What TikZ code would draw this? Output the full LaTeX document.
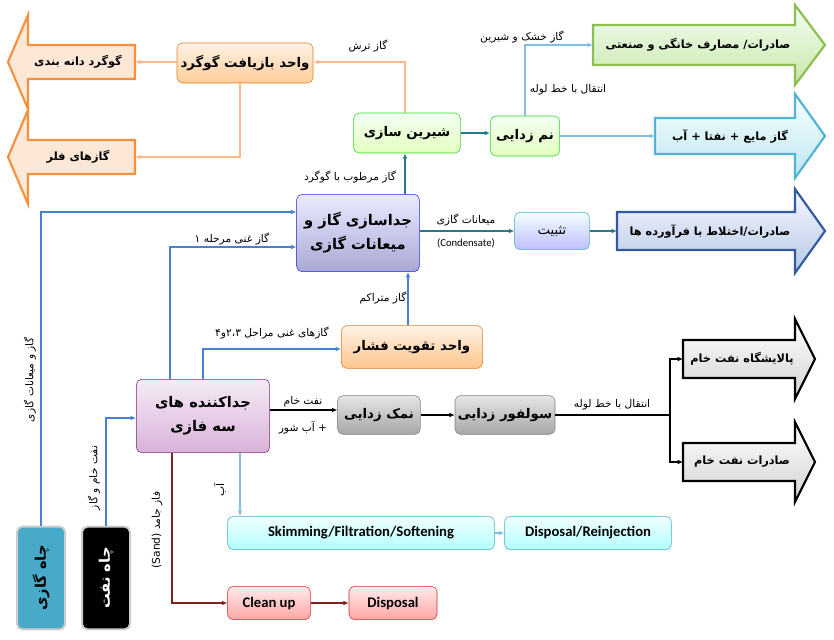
\documentclass[tikz,border=0pt]{standalone}
\usepackage{fontspec}
\setmainfont{Carlito}
\newfontfamily\persian[Script=Arabic]{DejaVu Sans}
\TeXXeTstate=1
\usetikzlibrary{arrows.meta}
\newcommand{\fa}[1]{{\persian\beginR #1\endR}}
\definecolor{lblue}{RGB}{70,130,210}
\definecolor{teal2}{RGB}{40,120,140}
\definecolor{lor}{RGB}{250,185,140}
\definecolor{wblue}{RGB}{130,190,230}
\definecolor{dred}{RGB}{130,30,30}
\tikzset{
 bx/.style={rounded corners=4pt, align=center, inner sep=2pt, font=\bfseries\fontsize{10}{14}\selectfont, draw=#1!70!gray},
 lbl/.style={font=\fontsize{8}{9}\selectfont, inner sep=1pt},
 con/.style={draw=#1, line width=1pt, -{Latex[length=4pt,width=3.5pt]}},
 bigar/.style={line width=1.6pt},
 artxt/.style={font=\bfseries\fontsize{8.5}{10}\selectfont, inner sep=0pt}
}
\newcommand{\rarr}[7]{% x1 xb tip yc hb hh style
 \path[bigar,#7] (#1,#4-#5) -- (#2,#4-#5) -- (#2,#4-#6) -- (#3,#4) -- (#2,#4+#6) -- (#2,#4+#5) -- (#1,#4+#5) -- cycle;}
\begin{document}
\begin{tikzpicture}[x=0.75pt,y=-0.75pt]
\useasboundingbox (0,0) rectangle (834,639);
% big arrows
\rarr{593}{795}{825}{45}{20}{40}{draw={rgb,255:red,140;green,190;blue,80}, top color=green!5, bottom color={rgb,255:red,200;green,230;blue,170}}
\node[artxt] (tga) at (698,45) {\fa{صادرات/ مصارف خانگی و صنعتی}};
\coordinate (ga) at (593,45);
\rarr{655}{795}{825}{136}{18}{42}{draw={rgb,255:red,80;green,180;blue,210}, top color=cyan!3, bottom color={rgb,255:red,190;green,230;blue,240}}
\node[artxt] (tla) at (730,136) {\fa{گاز مایع + نفتا + آب}};
\coordinate (la) at (655,136);
\rarr{617}{795}{825}{231}{19}{42}{draw={rgb,255:red,50;green,90;blue,160}, top color=blue!3, bottom color={rgb,255:red,180;green,200;blue,230}}
\node[artxt] (tda) at (710,231) {\fa{صادرات/اختلاط با فرآورده ها}};
\coordinate (da) at (617,231);
\rarr{683}{795}{815}{359}{19}{40}{draw=black, top color=white, bottom color=gray!35}
\node[artxt] (tb1) at (742,359) {\fa{پالایشگاه نفت خام}};
\coordinate (b1) at (683,359);
\rarr{683}{795}{815}{462}{19}{40}{draw=black, top color=white, bottom color=gray!35}
\node[artxt] (tb2) at (742,462) {\fa{صادرات نفت خام}};
\coordinate (b2) at (683,462);
\path[bigar, draw={rgb,255:red,245;green,145;blue,60}, fill={rgb,255:red,253;green,232;blue,215}] (135,45) -- (28,45) -- (28,15) -- (8,62) -- (28,109) -- (28,79) -- (135,79) -- cycle;
\path[bigar, draw={rgb,255:red,245;green,145;blue,60}, fill={rgb,255:red,253;green,232;blue,215}] (135,140) -- (28,140) -- (28,110) -- (8,157) -- (28,204) -- (28,174) -- (135,174) -- cycle;
\node[artxt] (to1) at (78,62) {\fa{گوگرد دانه بندی}};
\node[artxt] (to2) at (78,157) {\fa{گازهای فلر}};
\coordinate (o1) at (135,62);
\coordinate (o2) at (135,157);
% boxes
\node[bx=orange, top color=orange!10, bottom color=orange!40, minimum width=102pt, minimum height=30pt] (sulf) at (245,63) {\fa{واحد بازیافت گوگرد}};
\node[bx=green, top color=green!5, bottom color=green!25!lime!25, minimum width=80pt, minimum height=30pt] (sweet) at (407,133) {\fa{شیرین سازی}};
\node[bx=green, top color=green!5, bottom color=green!25!lime!25, minimum width=52pt, minimum height=30pt] (dehy) at (525,136) {\fa{نم زدایی}};
\node[bx=blue, top color=blue!8, bottom color=blue!35!gray!50, minimum width=92pt, minimum height=58pt, font=\bfseries\fontsize{11}{18}\selectfont] (sep) at (358,233) {\fa{جداسازی گاز و}\\\fa{میعانات گازی}};
\node[bx=cyan, top color=cyan!5, bottom color=blue!25, minimum width=56pt, minimum height=28pt, font=\fontsize{10}{12}\selectfont] (stab) at (552,231) {\fa{تثبیت}};
\node[bx=orange, top color=orange!10, bottom color=orange!45, minimum width=106pt, minimum height=32pt] (boost) at (412,347) {\fa{واحد تقویت فشار}};
\node[bx=violet, top color=violet!8, bottom color=violet!30, minimum width=100pt, minimum height=55pt, font=\bfseries\fontsize{11}{18}\selectfont] (three) at (203,416) {\fa{جداکننده های}\\\fa{سه فازی}};
\node[bx=gray, top color=gray!20, bottom color=gray!70, minimum width=62pt, minimum height=29pt] (desalt) at (379,415) {\fa{نمک زدایی}};
\node[bx=gray, top color=gray!20, bottom color=gray!70, minimum width=75pt, minimum height=29pt] (desulf) at (505,415) {\fa{سولفور زدایی}};
\node[bx=cyan, top color=cyan!5, bottom color=cyan!30, minimum width=200pt, minimum height=25pt, font=\bfseries\fontsize{11}{13}\selectfont] (skim) at (361,533) {Skimming/Filtration/Softening};
\node[bx=cyan, top color=cyan!5, bottom color=cyan!30, minimum width=125pt, minimum height=25pt, font=\bfseries\fontsize{11}{13}\selectfont] (disp1) at (588,533) {Disposal/Reinjection};
\node[bx=red, top color=red!8, bottom color=red!35, minimum width=62pt, minimum height=25pt, font=\bfseries\fontsize{11}{13}\selectfont] (clean) at (269,603) {Clean up};
\node[bx=red, top color=red!8, bottom color=red!35, minimum width=66pt, minimum height=25pt, font=\bfseries\fontsize{11}{13}\selectfont] (disp2) at (393,603) {Disposal};
\node[rounded corners=4pt, fill={rgb,255:red,70;green,170;blue,200}, draw=gray!40, line width=1.5pt, minimum width=36pt, minimum height=77pt] (gwell) at (41,578) {};
\node[rotate=90, font=\bfseries\fontsize{11}{13}\selectfont] (gwt) at (gwell.center) {\fa{چاه گازی}};
\node[rounded corners=4pt, fill=black, draw=gray!40, line width=1.5pt, minimum width=36pt, minimum height=77pt] (owell) at (106,578) {};
\node[rotate=90, text=white, font=\bfseries\fontsize{11}{13}\selectfont] (owt) at (owell.center) {\fa{چاه نفت}};
% connectors
\draw[con=lblue] (gwell.north) -- (41,212) -- (41,212 -| sep.west);
\node[lbl, rotate=90] (l1) at (30,380) {\fa{گاز و میعانات گازی}};
\draw[con=lblue] (owell.north) -- (106,418) -- (106,418 -| three.west);
\node[lbl, rotate=90] (l2) at (94,478) {\fa{نفت خام و گاز}};
\draw[con=lblue] (170,0 |- three.north) -- (170,247) -- (170,247 -| sep.west);
\node[lbl] (l3) at (232,239) {\fa{گاز غنی مرحله ۱}};
\draw[con=lblue] (203,0 |- three.north) -- (203,349) -- (203,349 -| boost.west);
\node[lbl] (l4) at (272,333) {\fa{گازهای غنی مراحل ۲،۳و۴}};
\draw[con=lblue] (408,0 |- boost.north) -- (408,0 |- sep.south);
\node[lbl] (l5) at (383,298) {\fa{گاز متراکم}};
\draw[con=teal2] (405,0 |- sep.north) -- (405,0 |- sweet.south);
\node[lbl] (l6) at (350,177) {\fa{گاز مرطوب با گوگرد}};
\draw[con=lor] (405,0 |- sweet.north) -- (405,62) -- (405,62 -| sulf.east);
\node[lbl] (l7) at (368,46) {\fa{گاز ترش}};
\draw[con=lor] (sulf.west |- o1) -- (o1);
\draw[con=lor] (240,0 |- sulf.south) -- (240,157) -- (o2);
\draw[con=teal2] (sweet.east |- 0,133) -- (dehy.west |- 0,133);
\draw[con=wblue] (525,0 |- dehy.north) -- (525,45) -- (ga);
\node[lbl] (l8) at (522,37) {\fa{گاز خشک و شیرین}};
\node[lbl] (l9) at (568,90) {\fa{انتقال با خط لوله}};
\draw[con=wblue] (dehy.east |- la) -- (la);
\draw[con=teal2] (sep.east |- stab) -- (stab.west);
\node[lbl] (l10) at (466,220) {\fa{میعانات گازی}};
\node[lbl] (l11) at (466,243) {(Condensate)};
\draw[con=teal2] (stab.east) -- (da);
\draw[con=black] (three.east |- 0,410) -- (desalt.west |- 0,410);
\node[lbl] (l12) at (303,402) {\fa{نفت خام}};
\node[lbl] (l13) at (303,428) {\fa{+ آب شور}};
\draw[con=black] (desalt.east) -- (desulf.west);
\coordinate (jn) at (670,415);
\draw[line width=1pt] (desulf.east) -- (jn);
\draw[con=black] (jn) -- (670,359) -- (b1);
\draw[con=black] (jn) -- (670,462) -- (b2);
\node[lbl] (l14) at (612,405) {\fa{انتقال با خط لوله}};
\draw[con=wblue] (240,0 |- three.south) -- (240,0 |- skim.north);
\node[lbl, rotate=90] (l15) at (220,490) {\fa{آب}};
\draw[con=wblue] (skim.east) -- (disp1.west);
\draw[con=dred] (172,0 |- three.south) -- (172,603) -- (clean.west);
\node[lbl, rotate=90] (l16) at (157,530) {\fa{فاز جامد \beginL(Sand)\endL}};
\draw[con=dred] (clean.east) -- (disp2.west);
\end{tikzpicture}
\end{document}
